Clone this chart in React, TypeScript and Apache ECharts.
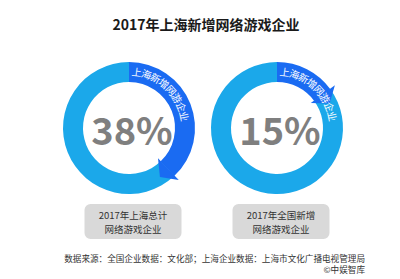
import React, { useEffect, useRef } from "react";
import * as echarts from "echarts";

const title = "2017年上海新增网络游戏企业";
const shares = [38, 15];
const ringLabels = ["上海新增网游企业", "上海新增网游企业"];
const boxLabels = [
  ["2017年上海总计", "网络游戏企业"],
  ["2017年全国新增", "网络游戏企业"],
];
const sourceLines = [
  "数据来源：全国企业数据：文化部；上海企业数据：上海市文化广播电视管理局",
  "©中娱智库",
];

const FONT = '"Noto Sans CJK SC", "Noto Sans", sans-serif';
const DARK = "#1A6BF2";
const LIGHT = "#1BA8EA";
const centers: [number, number][] = [
  [129, 128],
  [277, 128],
];
const R_IN = 46;
const R_OUT = 66;

function polar(cx: number, cy: number, r: number, deg: number): number[] {
  const a = (deg * Math.PI) / 180;
  return [cx + r * Math.sin(a), cy - r * Math.cos(a)];
}

export default function App() {
  const ref = useRef<HTMLDivElement>(null);
  useEffect(() => {
    document.body.style.margin = "0";
    const chart = echarts.init(ref.current!, null, { renderer: "svg" });
    const series: any[] = [];
    const graphic: any[] = [];
    shares.forEach((v, k) => {
      const [cx, cy] = centers[k];
      series.push({
        type: "pie",
        center: [cx, cy],
        radius: [R_IN, R_OUT],
        startAngle: 90,
        clockwise: true,
        silent: true,
        label: { show: false },
        labelLine: { show: false },
        data: [
          { value: v, itemStyle: { color: DARK } },
          { value: 100 - v, itemStyle: { color: LIGHT } },
        ],
      });
      // arrow head at end of dark arc
      const endDeg = (v / 100) * 360;
      const b1 = polar(cx, cy, R_IN - 4, endDeg - 0.5);
      const b2 = polar(cx, cy, R_OUT + 6, endDeg - 0.5);
      const tip = polar(cx, cy, (R_IN + R_OUT) / 2 + 2, endDeg + 11);
      graphic.push({
        type: "polygon",
        silent: true,
        shape: { points: [b1, b2, tip] },
        style: { fill: DARK },
        z: 10,
      });
      // curved label
      const chars = Array.from(ringLabels[k]);
      chars.forEach((ch, i) => {
        const deg = 8 + i * 10;
        const [x, y] = polar(cx, cy, 57, deg);
        graphic.push({
          type: "text",
          x,
          y,
          rotation: (-deg * Math.PI) / 180,
          silent: true,
          z: 11,
          style: {
            text: ch,
            fill: "#ffffff",
            font: `10px ${FONT}`,
            align: "center",
            verticalAlign: "middle",
          },
        });
      });
      // big percent
      graphic.push({
        type: "text",
        x: cx + 3,
        y: cy,
        silent: true,
        style: {
          text: `${v}%`,
          fill: "#7F7F7F",
          font: `bold 38px ${FONT}`,
          align: "center",
          verticalAlign: "middle",
        },
      });
      // box
      const bx = cx + 4;
      graphic.push({
        type: "rect",
        silent: true,
        shape: { x: bx - 48.5, y: 204, width: 97, height: 35, r: 6 },
        style: { fill: "#D9D9D9" },
      });
      boxLabels[k].forEach((line, j) => {
        graphic.push({
          type: "text",
          x: bx,
          y: 214.5 + j * 14,
          silent: true,
          style: {
            text: line,
            fill: "#333333",
            font: `9.5px ${FONT}`,
            align: "center",
            verticalAlign: "middle",
          },
        });
      });
    });
    graphic.push({
      type: "text",
      x: 206,
      y: 24,
      silent: true,
      style: {
        text: title,
        fill: "#1a1a1a",
        font: `bold 14px ${FONT}`,
        align: "center",
        verticalAlign: "middle",
      },
    });
    sourceLines.forEach((line, j) => {
      graphic.push({
        type: "text",
        x: 365,
        y: 258 + j * 11,
        silent: true,
        style: {
          text: line,
          fill: "#333333",
          font: `8.6px ${FONT}`,
          align: "right",
          verticalAlign: "middle",
        },
      });
    });
    chart.setOption({
      animation: false,
      backgroundColor: "#ffffff",
      series,
      graphic,
    });
    return () => chart.dispose();
  }, []);
  return <div ref={ref} style={{ width: 400, height: 279 }} />;
}
